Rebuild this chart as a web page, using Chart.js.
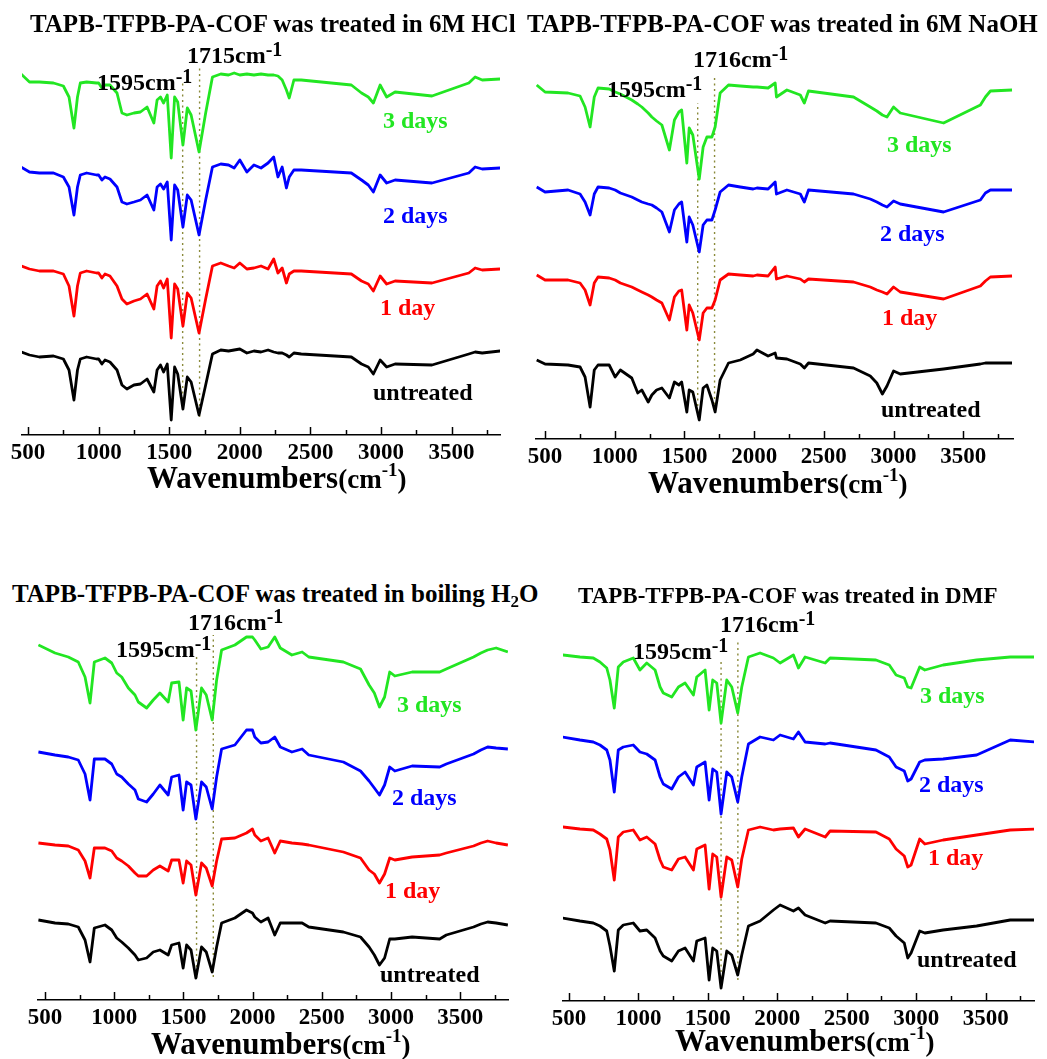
<!DOCTYPE html>
<html>
<head>
<meta charset="utf-8">
<script src="https://cdn.jsdelivr.net/npm/chart.js@4"></script>
<style>
  html, body { margin: 0; padding: 0; background: #fff; }
  #page { position: relative; width: 1047px; height: 1059px; overflow: hidden; font-family: "Liberation Serif", "Times New Roman", serif; }
  .lbl { position: absolute; white-space: nowrap; font-weight: bold; }
  .sup { position: relative; }
  .sub { position: relative; }
</style>
</head>
<body>
<div id="page"></div>
<script>
// tick labels and series names
const tickLabels = [500, 1000, 1500, 2000, 2500, 3000, 3500];
const seriesNames = ['3 days', '2 days', '1 day', 'untreated'];
const seriesColors = ['#22e622', '#0000ff', '#ff0000', '#000000'];

// --- 6M HCl (wavenumber cm-1, transmittance a.u. relative to baseline) ---
const hclWn = [450,510,580,680,750,790,825,850,870,915, 985,1000,1023,1045,1080,1130,1165,1200,1250,1296,
  1343,1391,1414,1438,1460,1486,1514,1538,1560,1597, 1628,1655,1711,1758,1806,1865,1920,1960,2000,2050,
  2100,2150,2200,2240,2270,2300,2330,2350,2383,2435, 2790,2862,2910,2946,2994,3040,3100,3361,3622,3667, 3717,3845];
const hclDay3 = [0,-8,-8,-9,-12,-23,-54,-23,-9,-8, -9,-9,-14,-11,-11,-19,-39,-41,-39,-38,
  -33,-49,-26,-23,-29,-21,-84,-23,-28,-71, -34,-41,-78,-39,-3,0,-1,1,-1,0,
  -1,0,-1,-1,-2,-6,-16,-24,-6,-6, -11,-19,-23,-29,-11,-23,-18,-22,-9,-3, -6,-5];
const hclDay2 = [0,-5,-6,-6,-10,-20,-48,-20,-8,-6, -8,-8,-13,-10,-12,-20,-35,-37,-35,-33,
  -28,-43,-20,-17,-22,-15,-73,-18,-23,-60, -28,-33,-68,-33,0,3,2,-1,7,-5,
  2,-1,4,10,-10,0,-21,-10,-3,-3, -6,-13,-18,-25,-8,-16,-13,-16,-6,0, -2,-1];
const hclDay1 = [0,-3,-5,-5,-8,-20,-50,-20,-7,-5, -7,-7,-12,-8,-10,-20,-33,-38,-35,-33,
  -28,-43,-20,-15,-22,-13,-72,-18,-23,-60, -27,-32,-67,-33,0,3,0,-2,3,-3,
  -2,0,-3,7,-7,-2,-17,-8,-5,-5, -8,-15,-18,-25,-10,-18,-15,-17,-7,-2, -4,-3];
const hclUntreated = [0,-3,-5,-4,-7,-18,-48,-18,-7,-5, -7,-7,-12,-8,-10,-18,-33,-37,-33,-32,
  -27,-40,-18,-13,-20,-12,-68,-15,-22,-57, -25,-30,-63,-33,-2,2,1,2,3,-1,
  1,0,2,0,-1,-1,-3,-5,-1,-2, -5,-12,-15,-22,-8,-15,-12,-13,-2,0, -1,1];
const hclOffsets = [361, 268, 169, 83];
const hclPeaks = [1595, 1715];
const hclPeakSpan = [[25, 352], [18, 367]];

// --- 6M NaOH ---
const naohWn = [440,500,665,751,787,823,853,880,960,1003, 1040,1122,1165,1194,1240,1266,1300,1338,1392,1428,
  1460,1480,1517,1534,1560,1606,1634,1661,1697,1720, 1756,1816,1900,1993,2020,2100,2151,2160,2235,2331,
  2360,2390,2713,2833,2880,2920,2953,3000,3048,3359, 3623,3659,3695,3850];
const naohDay3 = [0,-7,-8,-11,-22,-42,-12,-3,-4,-7, -9,-15,-19,-22,-28,-32,-36,-40,-65,-35,
  -27,-25,-78,-43,-50,-94,-62,-52,-52,-42, -8,0,-1,-2,-2,-3,2,-12,-5,-10,
  -18,-6,-12,-22,-26,-30,-32,-22,-28,-38, -20,-12,-6,-5];
const naohDay2 = [0,-5,-3,-7,-15,-28,-7,0,-1,-3, -6,-10,-13,-15,-17,-18,-21,-25,-45,-23,
  -17,-15,-55,-30,-38,-65,-38,-33,-33,-23, -5,2,0,-2,-1,-2,5,-7,-3,-7,
  -15,-3,-7,-12,-15,-18,-20,-14,-17,-25, -13,-6,-3,-3];
const naohDay1 = [0,-5,-5,-8,-15,-30,-8,-2,-3,-5, -8,-12,-15,-17,-20,-22,-25,-28,-45,-22,
  -16,-15,-55,-30,-38,-65,-38,-33,-33,-25, -5,1,0,-1,0,-1,8,-4,-1,-4,
  -7,-4,-7,-12,-15,-17,-19,-12,-17,-24, -11,-6,-2,-1];
const naohUntreated = [0,-4,-5,-7,-17,-47,-10,-5,-5,-17, -10,-18,-33,-30,-42,-35,-30,-28,-38,-22,
  -25,-22,-52,-30,-32,-60,-28,-25,-40,-52, -20,-3,0,6,10,4,7,2,1,-4,
  -8,-3,-8,-16,-23,-34,-26,-11,-14,-9, -4,-3,-3,-3];
const naohOffsets = [354, 252, 164, 79];
const naohPeaks = [1595, 1716];
const naohPeakSpan = [[22, 336], [29, 364]];

// --- boiling H2O ---
const h2oWn = [452,572,668,740,789,825,856,933,982,1018, 1054,1102,1150,1174,1234,1282,1330,1390,1415,1468,
  1498,1523,1555,1590,1631,1665,1708,1740,1776,1872, 1956,1999,2016,2060,2112,2160,2200,2284,2358,2406,
  2656,2780,2842,2880,2917,2954,2991,3028,3153,3352, 3400,3597,3650,3699,3760,3845];
const h2oDay3 = [0,-8,-12,-17,-32,-58,-17,-13,-18,-28, -32,-43,-50,-57,-63,-55,-48,-57,-38,-37,
  -75,-43,-46,-85,-43,-50,-75,-35,-5,0, 8,8,5,-4,-2,8,-3,-10,-7,-12,
  -17,-24,-40,-48,-62,-52,-27,-31,-27,-27, -24,-12,-8,-5,-3,-7];
const h2oDay2 = [0,-3,-5,-8,-22,-48,-7,-7,-12,-22, -25,-32,-38,-47,-50,-42,-33,-43,-25,-23,
  -58,-30,-33,-67,-30,-35,-57,-25,3,7, 22,22,15,9,10,15,5,0,3,-3,
  -10,-19,-29,-36,-43,-33,-15,-19,-14,-15, -12,-2,2,5,4,3];
const h2oDay1 = [0,-2,-3,-7,-18,-35,-5,-5,-8,-15, -18,-23,-30,-33,-33,-27,-23,-28,-17,-17,
  -40,-18,-22,-52,-20,-25,-43,-18,4,5, 10,14,8,2,5,-10,2,0,-1,-2,
  -9,-15,-27,-31,-40,-31,-15,-17,-14,-12, -10,-3,0,2,0,-2];
const h2oUntreated = [0,-3,-4,-7,-20,-42,-8,-5,-10,-18, -22,-28,-35,-40,-38,-32,-30,-35,-25,-23,
  -48,-25,-30,-58,-27,-32,-52,-27,-3,2, 10,7,3,-2,2,-15,-3,-3,-3,-7,
  -12,-17,-27,-35,-45,-38,-19,-19,-17,-19, -15,-7,-4,-2,-3,-5];
const h2oOffsets = [355, 248, 157, 80];
const h2oPeaks = [1595, 1716];
const h2oPeakSpan = [[22, 345], [23, 365]];

// --- DMF ---
const dmfWn = [455,579,675,723,772,795,826,855,891,963, 1011,1060,1120,1156,1179,1240,1288,1336,1396,1420,
  1480,1509,1535,1564,1595,1636,1672,1715,1744,1792, 1876,1972,2020,2116,2152,2200,2345,2380,2710,2806,
  2855,2914,2939,2963,3025,3062,3194,3435,3677,3855];
const dmfDay3 = [0,-2,-3,-7,-13,-25,-53,-12,-7,-3, -15,-8,-15,-32,-38,-42,-32,-28,-40,-22,
  -15,-55,-25,-28,-68,-25,-32,-58,-32,-2, 2,-3,-8,0,-13,-2,-8,-3,-5,-10,
  -20,-23,-32,-33,-12,-15,-10,-5,-2,-2];
const dmfDay2 = [0,-3,-5,-8,-13,-23,-55,-13,-10,-8, -15,-17,-23,-40,-47,-52,-40,-35,-48,-30,
  -25,-63,-32,-35,-77,-35,-40,-65,-40,-7, 0,-3,2,-2,5,-5,-7,-6,-13,-20,
  -30,-34,-44,-42,-25,-23,-22,-18,-3,-5];
const dmfDay1 = [0,-2,-3,-7,-12,-23,-53,-10,-5,-3, -13,-10,-17,-33,-40,-43,-32,-30,-43,-22,
  -18,-62,-27,-30,-70,-30,-33,-60,-32,-3, 0,-3,-2,-1,-10,-2,-10,-4,-5,-12,
  -22,-29,-40,-38,-12,-17,-13,-8,-3,-2];
const dmfUntreated = [0,-3,-5,-8,-13,-28,-53,-12,-7,-5, -13,-12,-20,-33,-38,-43,-33,-30,-43,-23,
  -20,-62,-30,-33,-70,-33,-37,-57,-37,-8, -3,8,13,7,10,3,-5,-3,-5,-10,
  -18,-25,-40,-35,-13,-15,-12,-8,-2,-2];
const dmfOffsets = [346, 264, 174, 83];
const dmfPeaks = [1595, 1716];
const dmfPeakSpan = [[18, 341], [21, 361]];

// panel layout
const panels = [
  { title: 'TAPB-TFPB-PA-COF was treated in 6M HCl', titlePos: [30, 31.5, 25],
    wn: hclWn, series: [hclDay3, hclDay2, hclDay1, hclUntreated], offsets: hclOffsets,
    peaks: hclPeaks, peakSpan: hclPeakSpan, range: [457, 3843],
    box: { left: 0, top: 30, width: 520, height: 440 }, pad: { left: 22, right: 20 }, axisH: 35,
    peakPos: [[97, 90], [187, 63]], axisTitlePos: [147, 488],
    namePos: [[383, 128], [383, 223], [380, 315], [373, 400]] },
  { title: 'TAPB-TFPB-PA-COF was treated in 6M NaOH', titlePos: [527, 31.5, 25],
    wn: naohWn, series: [naohDay3, naohDay2, naohDay1, naohUntreated], offsets: naohOffsets,
    peaks: naohPeaks, peakSpan: naohPeakSpan, range: [435, 3857],
    box: { left: 520, top: 40, width: 527, height: 440 }, pad: { left: 16, right: 34 }, axisH: 41,
    peakPos: [[607, 97], [693, 67]], axisTitlePos: [648, 493],
    namePos: [[887, 152], [880, 241], [882, 325], [881, 417]] },
  { title: 'TAPB-TFPB-PA-COF was treated in boiling H<span class="sub" style="font-size:17px;top:5px">2</span>O', titlePos: [12, 602, 25],
    wn: h2oWn, series: [h2oDay3, h2oDay2, h2oDay1, h2oUntreated], offsets: h2oOffsets,
    peaks: h2oPeaks, peakSpan: h2oPeakSpan, range: [449, 3846],
    box: { left: 0, top: 610, width: 525, height: 425 }, pad: { left: 38, right: 17 }, axisH: 35,
    peakPos: [[116, 657], [188, 630]], axisTitlePos: [151, 1054],
    namePos: [[397, 712], [392, 805], [385, 898], [380, 982]] },
  { title: 'TAPB-TFPB-PA-COF was treated in DMF', titlePos: [578, 603, 23],
    wn: dmfWn, series: [dmfDay3, dmfDay2, dmfDay1, dmfUntreated], offsets: dmfOffsets,
    peaks: dmfPeaks, peakSpan: dmfPeakSpan, range: [457, 3848],
    box: { left: 540, top: 615, width: 507, height: 420 }, pad: { left: 23, right: 13 }, axisH: 34,
    peakPos: [[633, 659], [720, 632]], axisTitlePos: [675, 1051],
    namePos: [[920, 703], [919, 792], [928, 865], [917, 967]] }
];

const page = document.getElementById('page');

function addText(html, x, base, size, color) {
  const d = document.createElement('div');
  d.className = 'lbl';
  d.style.left = x + 'px';
  d.style.top = (base - 0.8375 * size) + 'px';
  d.style.fontSize = size + 'px';
  d.style.lineHeight = size + 'px';
  d.style.color = color;
  d.innerHTML = html;
  page.appendChild(d);
}

// inward tick marks on the wavenumber axis
const innerTicks = {
  id: 'innerTicks',
  afterDraw(chart) {
    const sx = chart.scales.x, ctx = chart.ctx, y0 = sx.top;
    ctx.save();
    ctx.strokeStyle = '#000';
    ctx.lineWidth = 1.5;
    sx.ticks.forEach(t => {
      const px = Math.round(sx.getPixelForValue(t.value)) + 0.5;
      const len = tickLabels.includes(t.value) ? 8 : 5;
      ctx.beginPath();
      ctx.moveTo(px, y0);
      ctx.lineTo(px, y0 - len);
      ctx.stroke();
    });
    ctx.restore();
  }
};

panels.forEach(p => {
  const c = document.createElement('canvas');
  c.width = p.box.width;
  c.height = p.box.height;
  c.style.cssText = 'position:absolute;left:' + p.box.left + 'px;top:' + p.box.top + 'px;';
  page.appendChild(c);

  const plotH = p.box.height - p.axisH;
  const datasets = [];
  p.peaks.forEach((wn, k) => datasets.push({
    data: [{ x: wn, y: p.peakSpan[k][0] }, { x: wn, y: p.peakSpan[k][1] }],
    borderColor: '#8a8a3a', borderWidth: 1.4, borderDash: [2, 3.5], pointRadius: 0, order: 2
  }));
  p.series.forEach((vals, s) => datasets.push({
    label: seriesNames[s],
    data: p.wn.map((w, i) => ({ x: w, y: p.offsets[s] + vals[i] })),
    borderColor: seriesColors[s], borderWidth: 2.8, pointRadius: 0, tension: 0,
    borderJoinStyle: 'round', order: 1
  }));

  new Chart(c, {
    type: 'line',
    data: { datasets },
    options: {
      responsive: false,
      animation: false,
      layout: { padding: { left: p.pad.left, right: p.pad.right, top: 0, bottom: 0 } },
      plugins: { legend: { display: false }, tooltip: { enabled: false } },
      scales: {
        x: {
          type: 'linear', min: p.range[0], max: p.range[1],
          afterFit: s => { s.height = p.axisH; s.paddingLeft = 0; s.paddingRight = 0; },
          grid: { display: false, drawTicks: false },
          border: { display: true, color: '#000', width: 1.5 },
          ticks: {
            stepSize: 250, includeBounds: false, autoSkip: false, maxRotation: 0, padding: 4,
            color: '#000', font: { family: '"Liberation Serif", serif', size: 23, weight: 'bold' },
            callback: v => tickLabels.includes(v) ? String(v) : ''
          }
        },
        y: { display: false, min: 0, max: plotH }
      }
    },
    plugins: [innerTicks]
  });

  // text
  addText(p.title, p.titlePos[0], p.titlePos[1], p.titlePos[2], '#000');
  p.peaks.forEach((wn, k) => addText(wn + 'cm<span class="sup" style="font-size:20px;top:-7px">-1</span>',
    p.peakPos[k][0], p.peakPos[k][1], 24, '#000'));
  addText('Wavenumbers<span style="font-size:27px">(cm<span class="sup" style="font-size:19px;top:-12px">-1</span>)</span>',
    p.axisTitlePos[0], p.axisTitlePos[1], 31, '#000');
  seriesNames.forEach((n, s) => addText(n, p.namePos[s][0], p.namePos[s][1], 24, seriesColors[s]));
});
</script>
</body>
</html>
